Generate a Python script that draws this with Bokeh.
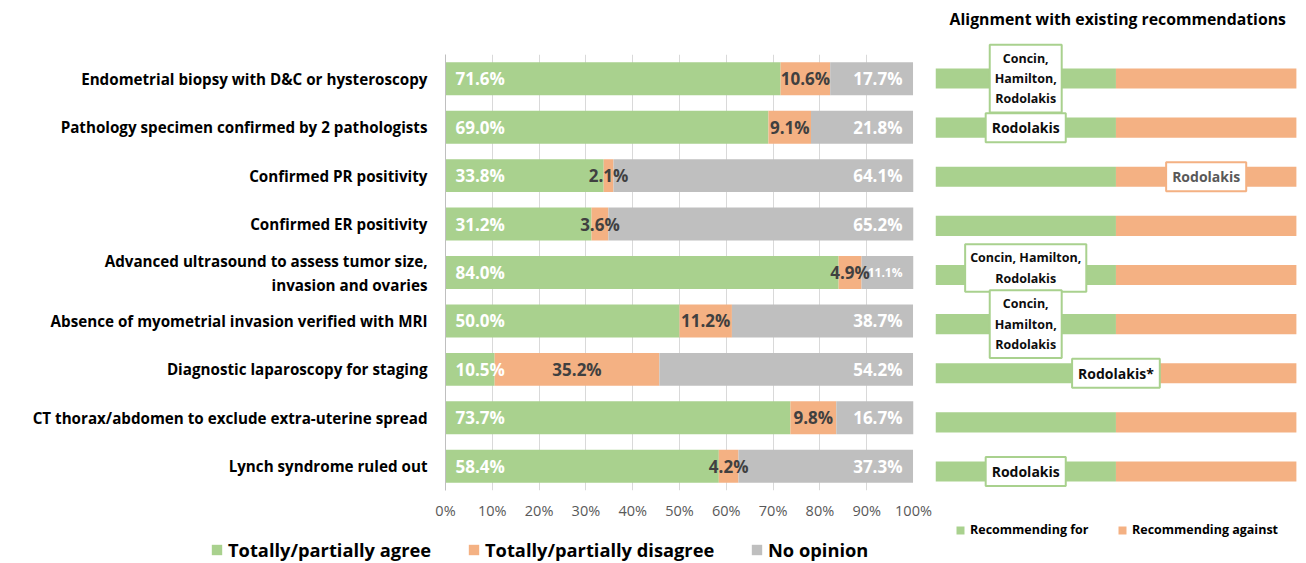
from bokeh.plotting import figure
from bokeh.layouts import row, column
from bokeh.models import (FactorRange, Range1d, FixedTicker, PrintfTickFormatter,
                          Legend, LegendItem, ColumnDataSource, Label)
from bokeh.core.properties import value
from bokeh.embed import file_html
from bokeh.resources import INLINE

# ---------------- data ----------------
categories = [
    "Endometrial biopsy with D&C or hysteroscopy",
    "Pathology specimen confirmed by 2 pathologists",
    "Confirmed PR positivity",
    "Confirmed ER positivity",
    "Advanced ultrasound to assess tumor size,\ninvasion and ovaries",
    "Absence of myometrial invasion verified with MRI",
    "Diagnostic laparoscopy for staging",
    "CT thorax/abdomen to exclude extra-uterine spread",
    "Lynch syndrome ruled out",
]
agree = [71.6, 69.0, 33.8, 31.2, 84.0, 50.0, 10.5, 73.7, 58.4]
disagree = [10.6, 9.1, 2.1, 3.6, 4.9, 11.2, 35.2, 9.8, 4.2]
no_opinion = [17.7, 21.8, 64.1, 65.2, 11.1, 38.7, 54.2, 16.7, 37.3]
series_names = ["Totally/partially agree", "Totally/partially disagree", "No opinion"]
tick_values = [0, 10, 20, 30, 40, 50, 60, 70, 80, 90, 100]

# alignment panel
panel_title = "Alignment with existing recommendations"
rec_for_share = [0.5, 0.5, 0.5, 0.5, 0.5, 0.5, 0.5, 0.5, 0.5]
rec_names = ["Recommending for", "Recommending against"]
box_rows = [
    "Endometrial biopsy with D&C or hysteroscopy",
    "Pathology specimen confirmed by 2 pathologists",
    "Confirmed PR positivity",
    "Advanced ultrasound to assess tumor size,\ninvasion and ovaries",
    "Absence of myometrial invasion verified with MRI",
    "Diagnostic laparoscopy for staging",
    "Lynch syndrome ruled out",
]
box_texts = ["Concin,\nHamilton,\nRodolakis", "Rodolakis", "Rodolakis",
             "Concin, Hamilton,\nRodolakis", "Concin,\nHamilton,\nRodolakis",
             "Rodolakis*", "Rodolakis"]
box_stance = ["for", "for", "against", "for", "for", "mixed", "for"]

# ---------------- styles ----------------
GREEN = "#a9d18e"
ORANGE = "#f4b183"
GRAY = "#bfbfbf"
FONT = "Open Sans"

factors = list(reversed(categories))

# ---------------- main chart ----------------
p = figure(width=935, height=523, x_range=Range1d(0, 100),
           y_range=FactorRange(*factors, range_padding=0),
           output_backend="svg", toolbar_location=None,
           min_border_left=445, min_border_right=22, min_border_top=54, min_border_bottom=33)
p.outline_line_color = None
p.ygrid.visible = False
p.xgrid.ticker = FixedTicker(ticks=tick_values)
p.xgrid.grid_line_color = "#d9d9d9"

left1 = [0] * len(categories)
right1 = agree
left2 = agree
right2 = [a + d for a, d in zip(agree, disagree)]
left3 = right2
right3 = [a + d + n for a, d, n in zip(agree, disagree, no_opinion)]

src = ColumnDataSource(dict(cat=categories, l1=left1, r1=right1, l2=left2, r2=right2,
                            l3=left3, r3=right3))
bh = 0.68
p.hbar(y="cat", left="l1", right="r1", height=bh, source=src, fill_color=GREEN, line_color=None)
p.hbar(y="cat", left="l2", right="r2", height=bh, source=src, fill_color=ORANGE, line_color=None)
p.hbar(y="cat", left="l3", right="r3", height=bh, source=src, fill_color=GRAY, line_color=None)

# value labels
p.text(x=left1, y=categories, text=[f"{v:.1f}%" for v in agree],
       text_font=value(FONT), text_font_style="bold", text_font_size="17px",
       text_color="white", text_align="left", text_baseline="middle", x_offset=10)
p.text(x=[(a + b) / 2 for a, b in zip(left2, right2)], y=categories,
       text=[f"{v:.1f}%" for v in disagree],
       text_font=value(FONT), text_font_style="bold", text_font_size="17px",
       text_color="#404040", text_align="center", text_baseline="middle")
gsizes = ["17px" if v >= 12 else "12px" for v in no_opinion]
p.text(x=[100] * len(categories), y=categories, text=[f"{v:.1f}%" for v in no_opinion],
       text_font=value(FONT), text_font_style="bold", text_font_size=gsizes,
       text_color="white", text_align="right", text_baseline="middle", x_offset=-11)

p.xaxis.ticker = FixedTicker(ticks=tick_values)
p.xaxis.formatter = PrintfTickFormatter(format="%d%%")
p.xaxis.axis_line_color = None
p.xaxis.major_tick_line_color = None
p.xaxis.minor_tick_line_color = None
p.xaxis.major_tick_out = 0
p.xaxis.major_tick_in = 0
p.xaxis.major_label_text_font = FONT
p.xaxis.major_label_text_font_size = "14.5px"
p.xaxis.major_label_text_color = "#595959"
p.xaxis.major_label_standoff = 10

p.yaxis.axis_line_color = "#bfbfbf"
p.yaxis.major_tick_line_color = None
p.yaxis.minor_tick_line_color = None
p.yaxis.major_tick_out = 0
p.yaxis.major_tick_in = 0
p.yaxis.major_label_text_font = FONT
p.yaxis.major_label_text_font_style = "bold"
p.yaxis.major_label_text_font_size = "15.2px"
p.yaxis.major_label_text_color = "black"
p.yaxis.major_label_standoff = 18


def make_legend(name, renderer, x, y, size, gsize):
    return Legend(items=[LegendItem(label=name, renderers=[renderer])], location=(x, y),
                  orientation="horizontal", padding=0, margin=0, spacing=0,
                  glyph_width=gsize, glyph_height=gsize, label_height=gsize,
                  label_standoff=5, border_line_color=None, background_fill_alpha=0,
                  label_text_font=FONT, label_text_font_style="bold",
                  label_text_font_size=size, label_text_color="black")


# ---------------- main legend strip ----------------
fl = figure(width=935, height=40, x_range=Range1d(0, 1), y_range=Range1d(0, 1),
            output_backend="svg", toolbar_location=None,
            min_border_left=0, min_border_right=0, min_border_top=0, min_border_bottom=0)
fl.outline_line_color = None
fl.xaxis.visible = False
fl.yaxis.visible = False
fl.grid.visible = False
for name, color, x in zip(series_names, [GREEN, ORANGE, GRAY], [210, 467, 750]):
    rr = fl.hbar(y=[5], left=[5], right=[6], height=1, fill_color=color, line_color=None)
    fl.add_layout(make_legend(name, rr, x, 1, "18.3px", 13))

# ---------------- alignment panel ----------------
n = len(categories)
rowpos = [n - 1 - i for i in range(n)]          # top row highest
q = figure(width=371, height=563, x_range=Range1d(0, 1.028),
           y_range=Range1d(-1.874, 9.589),
           output_backend="svg", toolbar_location=None,
           min_border_left=0, min_border_right=0, min_border_top=0, min_border_bottom=0)
q.outline_line_color = None
q.xaxis.visible = False
q.yaxis.visible = False
q.grid.visible = False

q.add_layout(Label(x=0.505, y=545, y_units="screen", text=panel_title,
                   text_font=FONT, text_font_style="bold", text_font_size="15.8px",
                   text_align="center", text_baseline="middle", text_color="black"))

r_for = q.hbar(y=rowpos, left=[0] * n, right=rec_for_share, height=0.41,
               fill_color=GREEN, line_color=None)
r_against = q.hbar(y=rowpos, left=rec_for_share, right=[1] * n, height=0.41,
                   fill_color=ORANGE, line_color=None)

stance_x = {"for": 0.25, "against": 0.75, "mixed": 0.5}
stance_border = {"for": GREEN, "against": ORANGE, "mixed": GREEN}
stance_text = {"for": "#0d0d0d", "against": "#595959", "mixed": "#0d0d0d"}
nudge = {3: -7}
for i, (r, t, s) in enumerate(zip(box_rows, box_texts, box_stance)):
    multi = "\n" in t
    ypos = rowpos[categories.index(r)]
    q.text(x=[stance_x[s]], y=[ypos], text=[t], text_font=value(FONT), text_font_style="bold",
           text_font_size="12.5px" if multi else "14px", text_color=stance_text[s],
           text_align="center", text_baseline="middle", y_offset=nudge.get(i, 0),
           background_fill_color="white", border_line_color=stance_border[s],
           border_line_width=2, padding=(5, 5) if multi else (6, 5))

for name, rr, x in zip(rec_names, [r_for, r_against], [20, 182]):
    q.add_layout(make_legend(name, rr, x, 25, "12.5px", 10))

layout = row(column(p, row(fl)), q)
open("out.html", "w").write(file_html(layout, INLINE))
